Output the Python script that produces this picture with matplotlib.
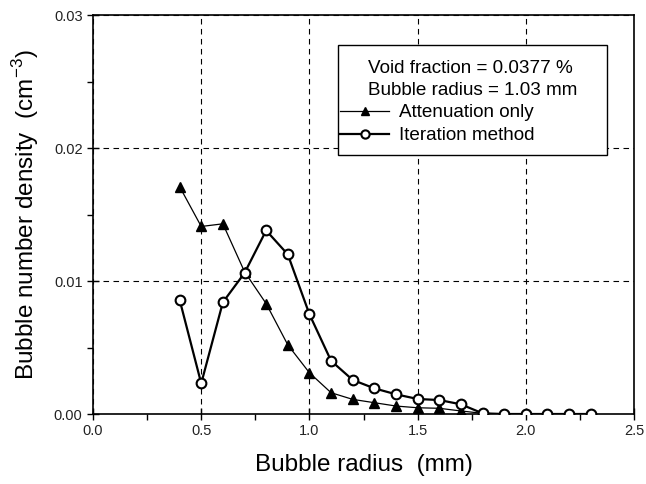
import matplotlib
matplotlib.use("Agg")
import matplotlib.pyplot as plt
from matplotlib.ticker import MultipleLocator, FormatStrFormatter
from matplotlib.patches import Rectangle

plt.rcParams['font.family'] = ['Liberation Sans', 'DejaVu Sans']
plt.rcParams['mathtext.fontset'] = 'custom'
plt.rcParams['mathtext.rm'] = 'Liberation Sans'

# bubble radius (mm)
radius = [0.4, 0.5, 0.6, 0.7, 0.8, 0.9, 1.0, 1.1, 1.2, 1.3, 1.4, 1.5,
          1.6, 1.7, 1.8, 1.9, 2.0, 2.1, 2.2, 2.3]
# bubble number density (cm^-3)
attenuation = [0.0171, 0.0141, 0.0143, 0.0107, 0.0083, 0.0052, 0.0031,
               0.0016, 0.0011, 0.00085, 0.0006, 0.00047, 0.00043, 0.00023,
               0.00005, 0.0, 0.0, 0.0, 0.0, 0.0]
iteration = [0.0086, 0.0023, 0.0084, 0.0106, 0.0138, 0.0120, 0.0075,
             0.0040, 0.00256, 0.00193, 0.00148, 0.00113, 0.00105, 0.00073,
             0.00005, 0.0, 0.0, 0.0, 0.0, 0.0]

fig = plt.figure(figsize=(6.46, 4.84), dpi=100)
ax = fig.add_axes([0.144, 0.1446, 0.8375, 0.8244])

ax.plot(radius, attenuation, color='black', lw=0.9, marker='^',
        markersize=7.5, markerfacecolor='black', markeredgecolor='black',
        label='Attenuation only', zorder=3)
ax.plot(radius, iteration, color='black', lw=1.6, marker='o',
        markersize=7, markerfacecolor='white', markeredgecolor='black',
        markeredgewidth=1.5, label='Iteration method', zorder=4)

ax.set_xlim(0, 2.5)
ax.set_ylim(0, 0.03)
ax.xaxis.set_major_locator(MultipleLocator(0.5))
ax.xaxis.set_minor_locator(MultipleLocator(0.25))
ax.yaxis.set_major_locator(MultipleLocator(0.01))
ax.yaxis.set_minor_locator(MultipleLocator(0.005))
ax.xaxis.set_major_formatter(FormatStrFormatter('%.1f'))
ax.yaxis.set_major_formatter(FormatStrFormatter('%.2f'))
ax.tick_params(which='major', direction='inout', length=8, width=1,
               labelsize=10.5, labelcolor='#222222')
ax.tick_params(which='minor', direction='out', length=4, width=1)

ax.grid(True, which='major', color='black', linestyle=(0, (5, 4)), lw=0.8)
for s in ax.spines.values():
    s.set_linewidth(1.2)

ax.set_xlabel('Bubble radius  (mm)', fontsize=17.5, labelpad=11)
ax.set_ylabel('Bubble number density  (cm$^{-3}$)', fontsize=17.5, labelpad=9)

# legend frame drawn separately so it can be taller than the legend content
box = Rectangle((0.453, 0.649), 0.497, 0.276, transform=ax.transAxes,
                facecolor='white', edgecolor='black', lw=1.0, zorder=5)
ax.add_patch(box)

leg = ax.legend(title='Void fraction = 0.0377 %\nBubble radius = 1.03 mm',
                loc='upper left', bbox_to_anchor=(0.453, 0.4, 0.497, 0.492),
                mode='expand', borderaxespad=0, borderpad=0.1, fontsize=13.6,
                title_fontsize=13.6, frameon=False, handlelength=2.6,
                handletextpad=0.5, labelspacing=0.3, numpoints=1,
                markerscale=0.85)
leg.get_title().set_linespacing(1.35)
leg.set_zorder(6)

fig.savefig('out.png', dpi=100)
